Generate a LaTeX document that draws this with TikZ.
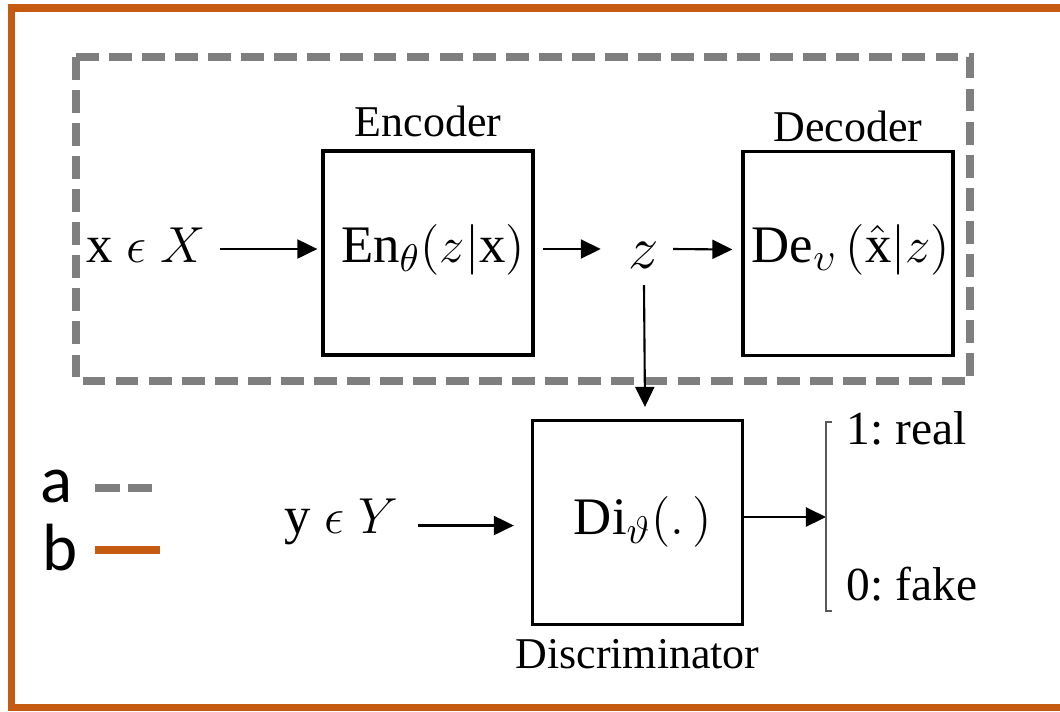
\documentclass[tikz,border=0pt]{standalone}
\usepackage{fontspec}
\usepackage{amsmath}
\setmainfont{Liberation Serif}
\newfontfamily\legendfont{Carlito}
\usepackage{tikz}
\usetikzlibrary{positioning, arrows.meta, calc}
\definecolor{frameorange}{HTML}{C55A11}
\definecolor{dashgray}{HTML}{7F7F7F}
\tikzset{every picture/.append style={line width=0.6pt}}
\frenchspacing

\begin{document}
\begin{tikzpicture}[x=0.01cm, y=-0.01cm, >={Triangle[length=0.2cm, width=0.19cm]},
    block/.style={draw, line width=0.9pt, minimum width=2.1cm, minimum height=2.04cm, inner sep=0pt},
    lbl/.style={font=\fontsize{12.5}{15}\selectfont},
    eq/.style={font=\fontsize{15}{18}\selectfont},
    outlbl/.style={font=\fontsize{13.5}{16}\selectfont, anchor=west},
    legend/.style={font=\legendfont\fontsize{19}{22}\selectfont}]
    \useasboundingbox (0,0) rectangle (1060,711);

    % Outer frame
    \draw[frameorange, line width=2pt] (11.5,8) rectangle (1090,707.5);

    % Autoencoder group
    \draw[dashgray, line width=2.3pt, dash pattern=on 6.5pt off 2.9pt] (76,57) rectangle (970,381);

    % Blocks
    \node[block] (enc) at (428,253) {};
    \node[eq] at (433,250) {$\mathrm{En}_{\theta}(z|\mathrm{x})$};
    \node[block] (dec) at (848,253.5) {};
    \node[eq] at (851,250) {$\mathrm{De}_{\upsilon}\,(\hat{\mathrm{x}}|z)$};
    \node[block] (dis) at (637.5,522.5) {};
    \node[eq] at (643,522) {$\mathrm{Di}_{\vartheta}(.\,)$};

    % Block titles
    \node[lbl, above=0pt of enc] {Encoder};
    \node[lbl, above=-1.5pt of dec] {Decoder};
    \node[lbl, below=0pt of dis] {Discriminator};

    % Inputs and latent
    \node[eq, anchor=west, inner sep=0pt] (xin) at (85,245) {$\mathrm{x}\;\epsilon\;X$};
    \node[eq, anchor=west, inner sep=0pt] (yin) at (283,522) {$\mathrm{y}\;\epsilon\;Y$};
    \node[font=\fontsize{19}{22}\selectfont, inner sep=0pt] (z) at (644,255) {$z$};

    % Arrows
    \draw[->] ($(enc.west)+(-101,-4)$) -- ($(enc.west)+(-4,-4)$);
    \draw[->] ($(enc.east)+(8,-4)$) -- ($(z.west)+(-27,-6)$);
    \draw[->] ($(z.east)+(13,-6)$) -- ($(dec.west)+(-9,-4)$);
    \draw[->] ($(z.south)+(0,16)$) -- ($(dis.north)+(7.5,-12)$);
    \draw[->] ($(dis.west)+(-113,3)$) -- ($(dis.west)+(-17,3)$);

    % Output bracket
    \coordinate (brk) at (826,517);
    \draw[->] (dis.east |- brk) -- (brk);
    \draw[gray!70!black, line width=0.5pt] ($(brk)+(6,-95)$) -- ($(brk)+(0,-95)$) -- ($(brk)+(0,94)$) -- ($(brk)+(6,94)$);
    \node[outlbl] (real) at (834,428) {1: real};
    \node[outlbl] (fake) at (834,584) {0: fake};

    % Legend
    \node[legend] (la) at (57,486) {a};
    \node[legend] (lb) at (60,548) {b};
    \draw[dashgray, line width=2pt, dash pattern=on 7pt off 2.3pt] ($(la.center)+(38,2)$) -- ++(62,0);
    \draw[frameorange, line width=2pt] ($(lb.center)+(35,2)$) -- ++(65,0);
\end{tikzpicture}
\end{document}
